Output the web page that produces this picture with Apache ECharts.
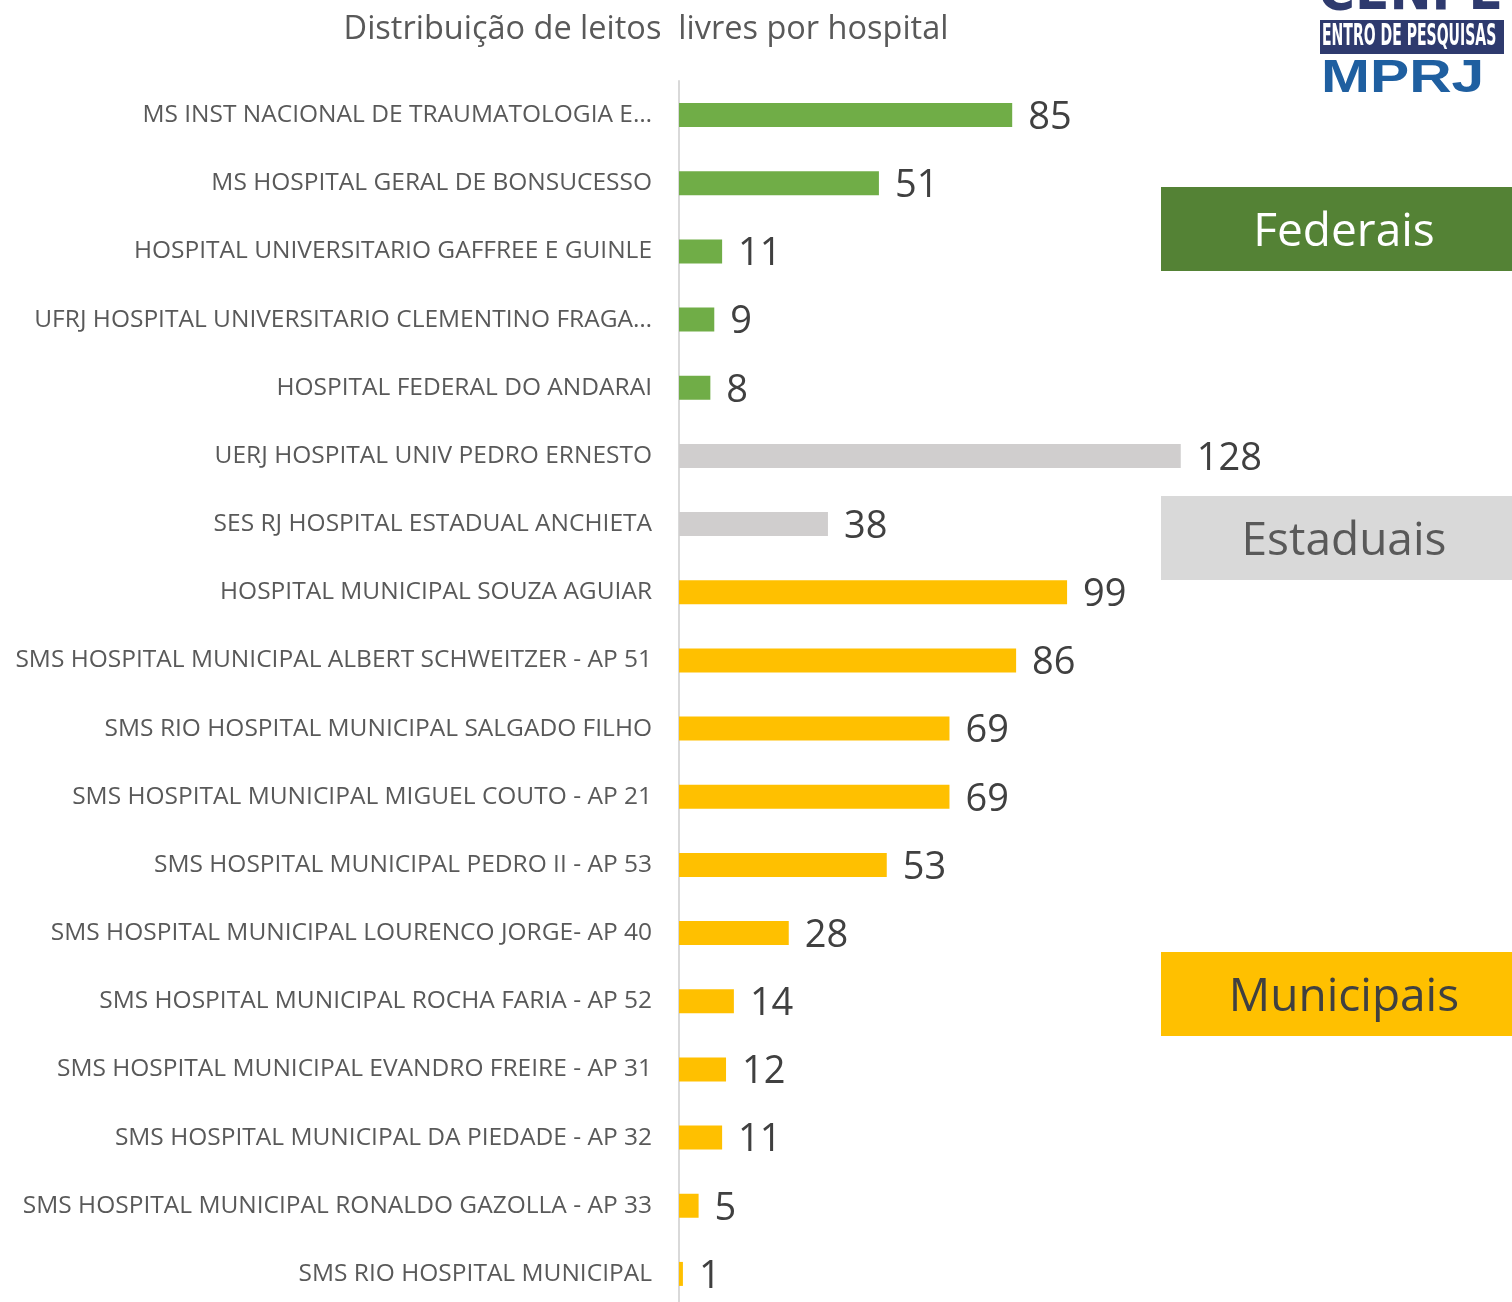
<!DOCTYPE html>
<html>
<head>
<meta charset="utf-8">
<script src="https://cdn.jsdelivr.net/npm/echarts@6/dist/echarts.min.js"></script>
<style>
  html, body { margin: 0; padding: 0; background: #fff; overflow: hidden; }
  /* um pouco mais alto que a janela: a última categoria fica cortada como no original */
  #chart { width: 1512px; height: 1320px; }
</style>
</head>
<body>
<div id="chart"></div>
<script>
const hospitais = [
  'MS INST NACIONAL DE TRAUMATOLOGIA E…',
  'MS HOSPITAL GERAL DE BONSUCESSO',
  'HOSPITAL UNIVERSITARIO GAFFREE E GUINLE',
  'UFRJ HOSPITAL UNIVERSITARIO CLEMENTINO FRAGA…',
  'HOSPITAL FEDERAL DO ANDARAI',
  'UERJ HOSPITAL UNIV PEDRO ERNESTO',
  'SES RJ HOSPITAL ESTADUAL ANCHIETA',
  'HOSPITAL MUNICIPAL SOUZA AGUIAR',
  'SMS HOSPITAL MUNICIPAL ALBERT SCHWEITZER - AP 51',
  'SMS RIO HOSPITAL MUNICIPAL SALGADO FILHO',
  'SMS HOSPITAL MUNICIPAL MIGUEL COUTO - AP 21',
  'SMS HOSPITAL MUNICIPAL PEDRO II - AP 53',
  'SMS HOSPITAL MUNICIPAL LOURENCO JORGE- AP 40',
  'SMS HOSPITAL MUNICIPAL ROCHA FARIA - AP 52',
  'SMS HOSPITAL MUNICIPAL EVANDRO FREIRE - AP 31',
  'SMS HOSPITAL MUNICIPAL DA PIEDADE - AP 32',
  'SMS HOSPITAL MUNICIPAL RONALDO GAZOLLA - AP 33',
  'SMS RIO HOSPITAL MUNICIPAL'
]
const leitosLivres = [85, 51, 11, 9, 8, 128, 38, 99, 86, 69, 69, 53, 28, 14, 12, 11, 5, 1]
const esfera = ['fed', 'fed', 'fed', 'fed', 'fed', 'est', 'est',
  'mun', 'mun', 'mun', 'mun', 'mun', 'mun', 'mun', 'mun', 'mun', 'mun', 'mun']

const cores = { fed: '#70ad47', est: '#d0cece', mun: '#ffc000' }

const chart = echarts.init(document.getElementById('chart'))

const seriesData = leitosLivres.map((v, i) => ({
  value: v,
  itemStyle: { color: cores[esfera[i]] }
}))

// caixas de legenda à direita
function caixa(top, fill, text, textColor) {
  return {
    type: 'group',
    left: 1161,
    top: top,
    children: [
      { type: 'rect', shape: { x: 0, y: 0, width: 351, height: 84 }, style: { fill: fill } },
      {
        type: 'text',
        style: {
          x: 183, y: 46, text: text, fill: textColor,
          font: '46px "Open Sans", sans-serif', align: 'center', verticalAlign: 'middle'
        }
      }
    ]
  }
}

const option = {
  animation: false,
  title: {
    text: 'Distribuição de leitos  livres por hospital',
    left: 641,
    top: 8,
    textAlign: 'center',
    textStyle: { color: '#595959', fontSize: 32.5, fontWeight: 'normal', fontFamily: 'Open Sans' }
  },
  grid: { left: 679, top: 81, right: 49, bottom: 12, containLabel: false },
  xAxis: {
    type: 'value',
    min: 0,
    max: 200,
    show: false
  },
  yAxis: {
    type: 'category',
    inverse: true,
    data: hospitais,
    axisLine: { lineStyle: { color: '#d9d9d9', width: 2 } },
    axisTick: { show: false },
    axisLabel: { color: '#595959', fontSize: 24.5, fontFamily: 'Open Sans', margin: 27 }
  },
  series: [{
    type: 'bar',
    data: seriesData,
    barWidth: 24,
    label: {
      show: true,
      position: 'right',
      distance: 16,
      offset: [0, 3],
      color: '#404040',
      fontSize: 38,
      fontFamily: 'Open Sans'
    }
  }],
  graphic: [
    caixa(187, '#548235', 'Federais', '#ffffff'),
    caixa(496, '#d9d9d9', 'Estaduais', '#595959'),
    caixa(952, '#ffc000', 'Municipais', '#404040'),
    // logo CENPE / MPRJ
    {
      type: 'text', left: 1318, top: -34,
      style: { text: 'CENPE', fill: '#2e3a6e', font: 'bold 56px "DejaVu Sans Condensed", sans-serif' }
    },
    { type: 'rect', shape: { x: 1320, y: 20, width: 184, height: 34 }, style: { fill: '#2e3a6e' } },
    {
      type: 'text', x: 1322, y: 37, scaleX: 0.52,
      style: {
        text: 'ENTRO DE PESQUISAS', fill: '#ffffff', verticalAlign: 'middle',
        font: 'bold 30px "DejaVu Sans Condensed", sans-serif'
      }
    },
    {
      type: 'text', x: 1321, y: 79, scaleX: 1.25,
      style: {
        text: 'MPRJ', fill: '#1f5fa0', verticalAlign: 'middle',
        font: 'bold 47px "Liberation Sans", sans-serif'
      }
    }
  ]
}

chart.setOption(option)
</script>
</body>
</html>
